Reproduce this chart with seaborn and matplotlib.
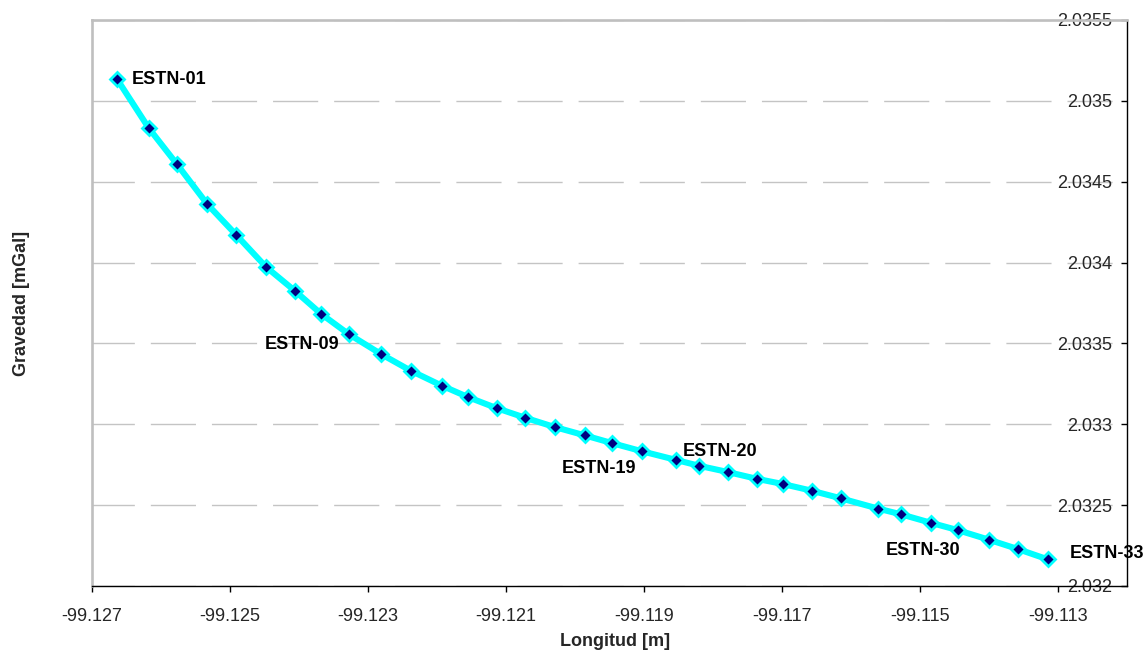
import numpy as np
import pandas as pd
import matplotlib
matplotlib.use("Agg")
import matplotlib.pyplot as plt
from matplotlib import font_manager
import seaborn as sns

# Station longitudes and gravity readings along the profile
longitud = [
    -99.126638, -99.126175, -99.125770, -99.125327, -99.124912, -99.124478,
    -99.124062, -99.123677, -99.123281, -99.122806, -99.122379, -99.121931,
    -99.121544, -99.121130, -99.120726, -99.120295, -99.119854, -99.119459,
    -99.119029, -99.118530, -99.118208, -99.117787, -99.117368, -99.116991,
    -99.116566, -99.116146, -99.115602, -99.115273, -99.114844, -99.114449,
    -99.114000, -99.113585, -99.113150,
]
gravedad = [
    2.035135, 2.034830, 2.034609, 2.034360, 2.034172, 2.033973,
    2.033826, 2.033682, 2.033558, 2.033433, 2.033331, 2.033239,
    2.033167, 2.033099, 2.033041, 2.032983, 2.032931, 2.032883,
    2.032833, 2.032779, 2.032744, 2.032705, 2.032663, 2.032631,
    2.032589, 2.032542, 2.032478, 2.032443, 2.032391, 2.032345,
    2.032286, 2.032229, 2.032165,
]
estaciones = [f"ESTN-{i:02d}" for i in range(1, len(longitud) + 1)]

# Stations that carry a text label, with label offsets in pixels
etiquetas = {
    "ESTN-01": (52, 0),
    "ESTN-09": (-47, -10),
    "ESTN-19": (-43, -17),
    "ESTN-20": (44, 9),
    "ESTN-30": (-35, -20),
    "ESTN-33": (59, 6),
}

x_ticks = [-99.127, -99.125, -99.123, -99.121, -99.119, -99.117, -99.115, -99.113]
y_ticks = [2.032, 2.0325, 2.033, 2.0335, 2.034, 2.0345, 2.035, 2.0355]
y_tick_labels = ["2.032", "2.0325", "2.033", "2.0335", "2.034", "2.0345", "2.035", "2.0355"]

df = pd.DataFrame({"Longitud": longitud, "Gravedad": gravedad, "Estacion": estaciones})

sns.set_theme(style="white")

# prefer a narrow sans face; otherwise a regular one at a slightly smaller size
disponibles = {f.name for f in font_manager.fontManager.ttflist}
if "Liberation Sans Narrow" in disponibles:
    plt.rcParams["font.family"] = ["Liberation Sans Narrow", "DejaVu Sans"]
    fs = 15
else:
    plt.rcParams["font.family"] = ["Liberation Sans", "DejaVu Sans"]
    fs = 13

fig = plt.figure(figsize=(11.48, 6.56), dpi=100)
ax = fig.add_axes([92 / 1148, 70 / 656, 1035 / 1148, 566 / 656])

sns.lineplot(
    data=df, x="Longitud", y="Gravedad", sort=False, ax=ax,
    color="#00FFFF", linewidth=4.4, marker="D", markersize=7,
    markerfacecolor="#000080", markeredgecolor="#00FFFF", markeredgewidth=2.0,
    zorder=3,
)

for nombre, (dx, dy) in etiquetas.items():
    i = estaciones.index(nombre)
    ax.annotate(nombre, (longitud[i], gravedad[i]), xytext=(dx, dy),
                textcoords="offset pixels", ha="center", va="center",
                fontsize=fs, fontweight="bold", color="black", zorder=4)

ax.set_xlim(-99.127, -99.112)
ax.set_ylim(2.032, 2.0355)

ax.set_xticks(x_ticks)
ax.set_xticklabels([f"{v:.3f}" for v in x_ticks])
ax.set_yticks(y_ticks)
ax.set_yticklabels(y_tick_labels)

# value axis sits on the right edge, labels drawn just inside the frame
ax.yaxis.set_ticks_position("right")
ax.tick_params(axis="y", which="major", direction="in", length=4, width=1,
               color="black", labelsize=fs, pad=-10.5,
               left=False, right=True, labelleft=False, labelright=True)
for lbl in ax.get_yticklabels():
    lbl.set_horizontalalignment("right")
ax.tick_params(axis="x", which="major", direction="out", length=4.5, width=1,
               color="black", labelsize=fs, pad=11, bottom=True)

ax.grid(axis="y", color="#C4C4C4", linewidth=1.0, linestyle=(2, (32.5, 11.5)))
ax.grid(axis="x", visible=False)
ax.set_axisbelow(True)

for side in ("left", "top"):
    ax.spines[side].set_color("#BFBFBF")
    ax.spines[side].set_linewidth(1.9)
for side in ("right", "bottom"):
    ax.spines[side].set_color("black")
    ax.spines[side].set_linewidth(1.0)

ax.set_xlabel("Longitud [m]", fontsize=fs, fontweight="bold")
ax.set_ylabel("Gravedad [mGal]", fontsize=fs, fontweight="bold")
ax.yaxis.set_label_position("left")
ax.xaxis.set_label_coords(0.505, -0.083)
ax.yaxis.set_label_coords(-0.06, 0.5)

fig.savefig("out.png", dpi=100)
